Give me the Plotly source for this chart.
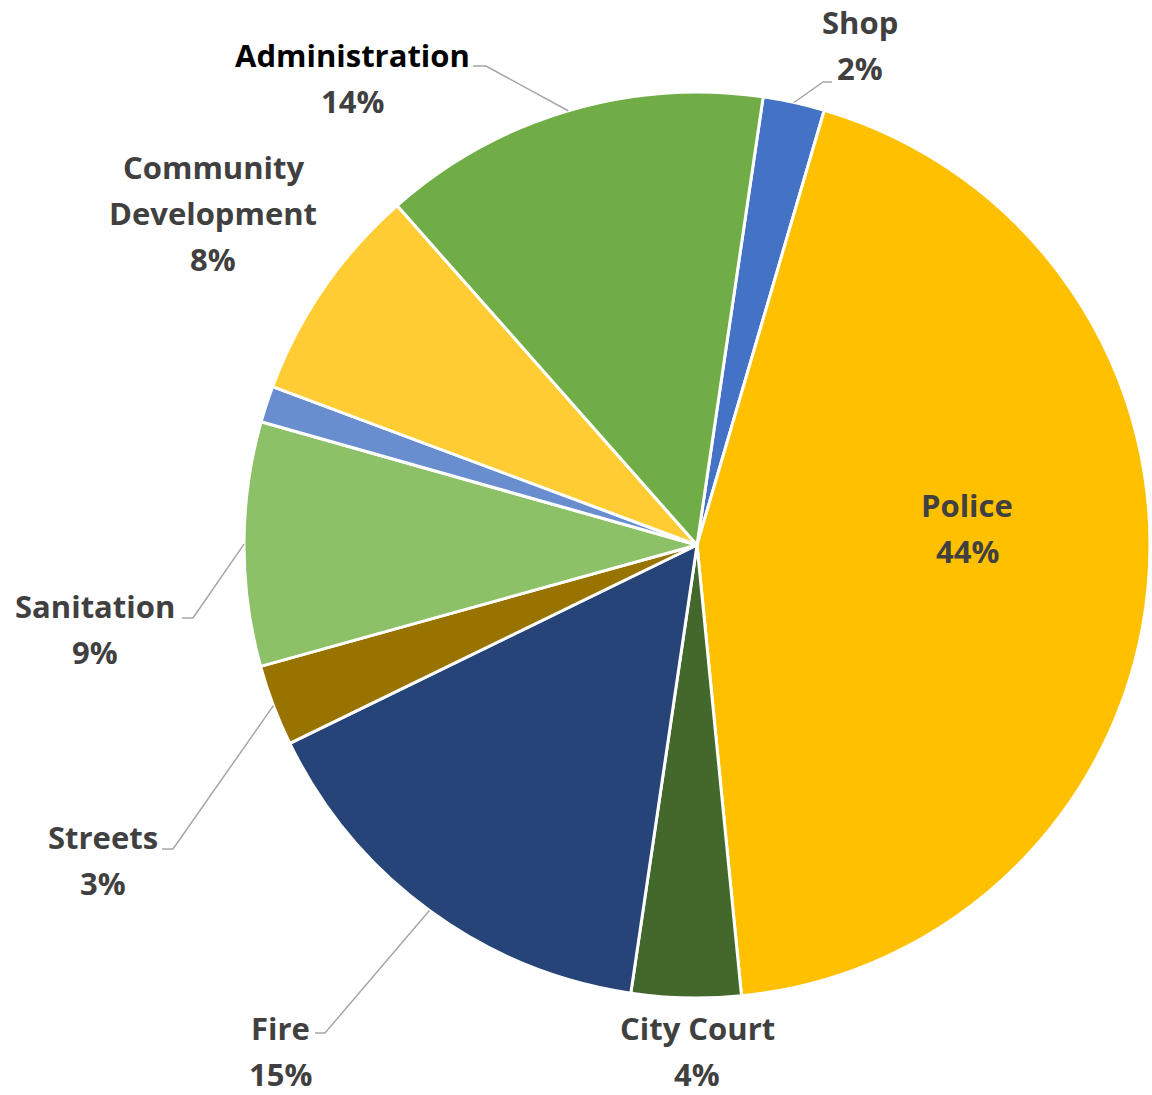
import math
import plotly.graph_objects as go

# Department share of the budget, clockwise from the top
departments = ["Shop", "Police", "City Court", "Fire", "Streets",
               "Sanitation", "Other", "Community Development", "Administration"]
shares = [2.2, 43.9, 3.9, 15.45, 2.9, 8.7, 1.3, 7.8, 13.85]
colors = ["#4472C4", "#FFC000", "#43682B", "#264478", "#997300",
          "#8CC168", "#698ED0", "#FFCD33", "#70AD47"]
start_angle = 8.4  # degrees clockwise from 12 o'clock

W, H = 1152, 1095
CX, CY, R = 697, 545, 453  # pie centre and radius in pixels

FONT = "Open Sans"
FS = 31
GREY_TEXT = "#404040"
LINE_GREY = "#A6A6A6"

# Label layout: name lines, x centre, y of first line, leader elbow
label_layout = {
    "Shop": dict(lines=["Shop"], x=860, y=22, elbow=[(832, 82), (823, 82)]),
    "Administration": dict(lines=["Administration"], x=352, y=55,
                           elbow=[(473, 66), (486, 66)], color="#000000"),
    "Community Development": dict(lines=["Community", "Development"], x=213, y=167),
    "Sanitation": dict(lines=["Sanitation"], x=95, y=606, elbow=[(182, 618), (193, 618)]),
    "Streets": dict(lines=["Streets"], x=103, y=837, elbow=[(162, 849), (173, 849)]),
    "Fire": dict(lines=["Fire"], x=280, y=1028, elbow=[(315, 1033), (325, 1033)]),
    "City Court": dict(lines=["City Court"], x=697, y=1028),
    "Police": dict(lines=["Police"], x=967, y=505),
}
LINE_STEP = 46


def px(x):
    return x / W


def py(y):
    return 1 - y / H


fig = go.Figure(go.Pie(
    labels=departments,
    values=shares,
    sort=False,
    direction="clockwise",
    rotation=start_angle,
    marker=dict(colors=colors, line=dict(color="white", width=3)),
    textinfo="none",
    hoverinfo="label+percent",
    showlegend=False,
    domain=dict(x=[px(CX - R), px(CX + R)], y=[py(CY + R), py(CY - R)]),
))

total = sum(shares)
annotations = []
shapes = []
angle = start_angle
for name, value in zip(departments, shares):
    span = value / total * 360
    mid = math.radians(angle + span / 2)
    angle += span
    spec = label_layout.get(name)
    if spec is None:
        continue
    color = spec.get("color", GREY_TEXT)
    texts = spec["lines"] + [f"{round(value / total * 100)}%"]
    for i, t in enumerate(texts):
        annotations.append(dict(
            x=px(spec["x"]), y=py(spec["y"] + i * LINE_STEP),
            xref="paper", yref="paper", text=f"<b>{t}</b>", showarrow=False,
            xanchor="center", yanchor="middle",
            font=dict(family=FONT, size=FS,
                      color=color if i < len(spec["lines"]) else GREY_TEXT),
        ))
    if "elbow" in spec:
        ex = CX + R * math.sin(mid)
        ey = CY - R * math.cos(mid)
        pts = spec["elbow"] + [(ex, ey)]
        path = "M " + " L ".join(f"{px(a)},{py(b)}" for a, b in pts)
        shapes.append(dict(type="path", path=path, xref="paper", yref="paper",
                           line=dict(color=LINE_GREY, width=1.5)))

fig.update_layout(
    width=W, height=H,
    margin=dict(l=0, r=0, t=0, b=0),
    paper_bgcolor="white",
    plot_bgcolor="white",
    annotations=annotations,
    shapes=shapes,
    font=dict(family=FONT),
)

fig.write_html("out.html")
